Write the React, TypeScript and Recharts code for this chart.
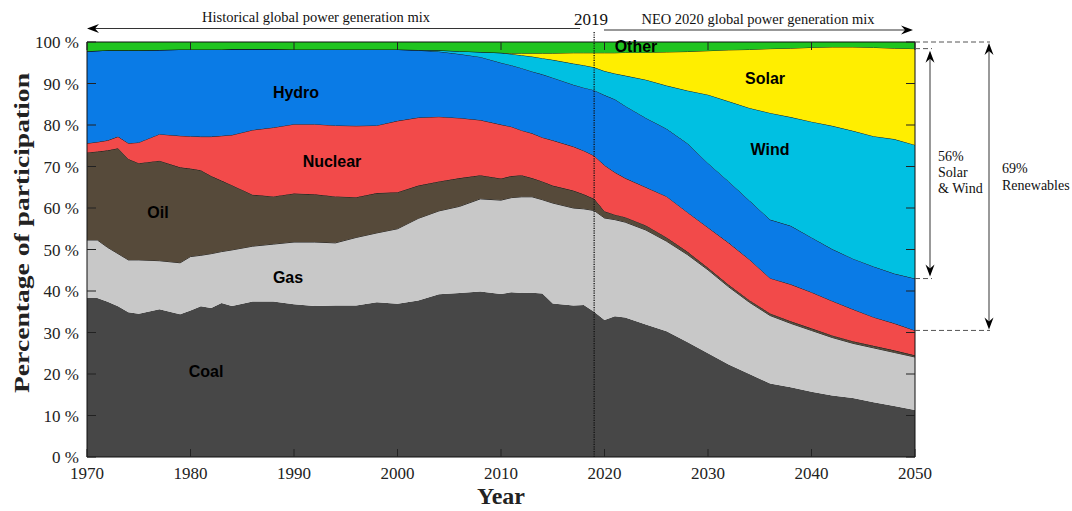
import React from "react";
import { AreaChart, Area, XAxis, YAxis, ReferenceLine } from "recharts";

// shares of global power generation (%)
const years = [1970, 1971, 1972, 1973, 1974, 1975, 1977, 1979, 1980, 1981, 1982, 1983, 1984, 1986, 1988, 1990, 1992, 1994, 1996, 1998, 2000, 2002, 2004, 2006, 2008, 2010, 2011, 2012, 2013, 2014, 2015, 2017, 2018, 2019, 2020, 2021, 2022, 2024, 2026, 2028, 2030, 2032, 2034, 2036, 2038, 2040, 2042, 2044, 2046, 2048, 2050];
const coal = [38.3, 38.3, 37.4, 36.3, 34.9, 34.5, 35.6, 34.4, 35.3, 36.3, 35.9, 37.1, 36.4, 37.5, 37.5, 36.8, 36.4, 36.5, 36.5, 37.3, 36.9, 37.7, 39.2, 39.5, 39.9, 39.3, 39.7, 39.5, 39.6, 39.4, 37.0, 36.5, 36.6, 35.0, 33.0, 33.9, 33.6, 31.9, 30.3, 27.7, 25.0, 22.3, 20.0, 17.7, 16.8, 15.7, 14.8, 14.2, 13.2, 12.3, 11.3];
const gas = [14.0, 14.0, 13.1, 12.7, 12.6, 13.0, 11.7, 12.4, 13.0, 12.3, 13.1, 12.4, 13.5, 13.3, 13.8, 15.0, 15.4, 15.1, 16.4, 16.7, 18.1, 19.8, 20.1, 20.9, 22.3, 22.6, 22.8, 23.2, 23.1, 22.6, 24.2, 23.5, 23.2, 24.4, 24.6, 23.3, 23.0, 22.8, 21.7, 21.1, 20.1, 18.7, 17.3, 16.4, 15.4, 14.8, 14.0, 13.2, 13.1, 12.9, 12.8];
const oil = [21.1, 21.3, 23.4, 25.4, 24.3, 23.3, 24.1, 23.0, 21.2, 20.5, 18.7, 17.1, 15.6, 12.4, 11.5, 11.7, 11.5, 11.2, 9.7, 9.6, 8.8, 7.9, 7.1, 6.8, 5.7, 5.2, 5.2, 5.2, 4.5, 4.4, 4.2, 4.2, 3.5, 2.8, 1.6, 1.2, 1.2, 1.1, 0.9, 0.7, 0.5, 0.5, 0.5, 0.5, 0.5, 0.5, 0.5, 0.5, 0.5, 0.5, 0.4];
const nuclear = [2.2, 2.3, 2.4, 2.8, 3.8, 5.0, 6.4, 7.6, 7.8, 8.1, 9.5, 10.8, 12.1, 15.6, 16.6, 16.7, 16.9, 17.1, 17.2, 16.3, 17.2, 16.4, 15.6, 14.5, 13.3, 13.0, 11.9, 10.8, 10.8, 10.6, 10.9, 10.6, 10.5, 10.4, 11.1, 10.2, 9.4, 9.2, 9.9, 9.5, 9.7, 10.1, 9.8, 8.5, 8.9, 8.7, 8.3, 7.7, 6.9, 6.5, 6.0];
const hydro = [22.2, 22.0, 21.7, 20.8, 22.4, 22.2, 20.3, 20.8, 20.9, 21.0, 21.0, 20.8, 20.7, 19.5, 18.9, 18.0, 18.0, 18.3, 18.4, 18.3, 17.2, 16.2, 15.7, 15.4, 15.2, 14.9, 14.8, 15.0, 14.9, 15.2, 15.1, 14.9, 15.2, 15.8, 16.9, 17.6, 17.4, 16.7, 16.3, 16.6, 15.5, 14.8, 14.2, 14.1, 14.1, 13.2, 12.5, 12.2, 12.2, 12.0, 12.5];
const wind = [0, 0, 0, 0, 0, 0, 0, 0, 0, 0, 0, 0, 0, 0, 0, 0, 0, 0, 0, 0, 0, 0.1, 0.3, 0.7, 1.2, 2.4, 2.7, 3.1, 3.6, 3.9, 4.3, 5.1, 5.4, 5.5, 5.8, 6.2, 7.3, 9.2, 10.4, 12.7, 16.5, 19.3, 22.3, 25.7, 26.2, 27.9, 29.7, 30.8, 31.4, 32.4, 32.2];
const solar = [0, 0, 0, 0, 0, 0, 0, 0, 0, 0, 0, 0, 0, 0, 0, 0, 0, 0, 0, 0, 0, 0, 0, 0, 0, 0, 0.2, 0.5, 0.8, 1.2, 1.6, 2.6, 3.0, 3.5, 4.4, 5.0, 5.6, 6.6, 8.1, 9.4, 10.6, 12.4, 14.1, 15.5, 16.6, 17.9, 19.0, 20.2, 21.4, 21.9, 23.2];
const other = [2.2, 2.1, 2.0, 2.0, 2.0, 2.0, 1.9, 1.8, 1.8, 1.8, 1.8, 1.8, 1.7, 1.7, 1.7, 1.8, 1.8, 1.8, 1.8, 1.8, 1.8, 1.9, 2.0, 2.2, 2.4, 2.6, 2.7, 2.7, 2.7, 2.7, 2.7, 2.6, 2.6, 2.6, 2.6, 2.6, 2.5, 2.5, 2.4, 2.3, 2.1, 1.9, 1.8, 1.6, 1.5, 1.3, 1.2, 1.2, 1.3, 1.5, 1.6];

const xTicks = [1970, 1980, 1990, 2000, 2010, 2020, 2030, 2040, 2050];
const yTicks = [0, 10, 20, 30, 40, 50, 60, 70, 80, 90, 100];

const series = [
  { key: "coal", label: "Coal", color: "#474747", line: false },
  { key: "gas", label: "Gas", color: "#c8c8c8", line: true },
  { key: "oil", label: "Oil", color: "#564a3a", line: true },
  { key: "nuclear", label: "Nuclear", color: "#f24a4a", line: true },
  { key: "hydro", label: "Hydro", color: "#0a7be6", line: true },
  { key: "wind", label: "Wind", color: "#00c0e2", line: true },
  { key: "solar", label: "Solar", color: "#ffee00", line: true },
  { key: "other", label: "Other", color: "#1fc41f", line: false },
];

const data = years.map((year, i) => ({
  year,
  coal: coal[i],
  gas: gas[i],
  oil: oil[i],
  nuclear: nuclear[i],
  hydro: hydro[i],
  wind: wind[i],
  solar: solar[i],
  other: other[i],
}));

const W = 1072;
const H = 511;
const PL = 87, PR = 915, PT = 42, PB = 457;
const xPx = (yr: number) => PL + ((yr - 1970) / 80) * (PR - PL);
const yPx = (v: number) => PB - (v / 100) * (PB - PT);

const serif = "'Liberation Serif', 'Times New Roman', serif";
const sans = "'Liberation Sans', Arial, sans-serif";

const BottomTick = ({ x, y, payload }: any) => (
  <g>
    <line x1={x} x2={x} y1={y - 8} y2={y} stroke="#222" />
    <text x={x} y={y + 22} textAnchor="middle" fontFamily={serif} fontSize={17} fill="#222">
      {payload.value}
    </text>
  </g>
);
const TopTick = ({ x, y }: any) => <line x1={x} x2={x} y1={y} y2={y + 8} stroke="#222" />;
const LeftTick = ({ x, y, payload }: any) => (
  <g>
    <line x1={x + 8} x2={x + 17} y1={y} y2={y} stroke="#222" />
    <text x={x} y={y + 6} textAnchor="end" fontFamily={serif} fontSize={17} fill="#222">
      {payload.value} %
    </text>
  </g>
);
const RightTick = ({ x, y }: any) => <line x1={x - 9} x2={x} y1={y} y2={y} stroke="#222" />;

function head(x: number, y: number, dir: "l" | "r" | "u" | "d") {
  const L = 12, w = 4.5, n = 4;
  let d = "";
  if (dir === "l") d = `M${x},${y} L${x + L},${y - w} L${x + L - n},${y} L${x + L},${y + w} Z`;
  if (dir === "r") d = `M${x},${y} L${x - L},${y - w} L${x - L + n},${y} L${x - L},${y + w} Z`;
  if (dir === "u") d = `M${x},${y} L${x - w},${y + L} L${x},${y + L - n} L${x + w},${y + L} Z`;
  if (dir === "d") d = `M${x},${y} L${x - w},${y - L} L${x},${y - L + n} L${x + w},${y - L} Z`;
  return <path d={d} fill="#000" />;
}

export default function App() {
  const last = years.length - 1;
  const swTop = 100 - other[last];
  const swBottom = coal[last] + gas[last] + oil[last] + nuclear[last] + hydro[last];
  const renBottom = coal[last] + gas[last] + oil[last] + nuclear[last];
  const x2019 = xPx(2019);

  const labels = [
    { t: "Hydro", x: 296, y: 98 },
    { t: "Nuclear", x: 332, y: 167 },
    { t: "Oil", x: 158, y: 218 },
    { t: "Gas", x: 288, y: 283 },
    { t: "Coal", x: 206, y: 377 },
    { t: "Solar", x: 765, y: 84 },
    { t: "Wind", x: 770, y: 155 },
    { t: "Other", x: 636, y: 52 },
  ];

  return (
    <div style={{ position: "absolute", left: 0, top: 0, width: W, height: H, background: "#fff" }}>
      <AreaChart width={W} height={H} data={data} margin={{ top: PT - 1, right: W - PR - 1, bottom: 24, left: 17 }}>
        <XAxis
          xAxisId="b"
          dataKey="year"
          type="number"
          domain={[1970, 2050]}
          ticks={xTicks}
          allowDataOverflow
          height={30}
          tickSize={0}
          tickMargin={0}
          tickLine={false}
          tick={<BottomTick />}
          axisLine={{ stroke: "#111" }}
          interval={0}
        />
        <XAxis
          xAxisId="t"
          orientation="top"
          dataKey="year"
          type="number"
          domain={[1970, 2050]}
          ticks={xTicks}
          allowDataOverflow
          height={1}
          tickSize={0}
          tickMargin={0}
          tickLine={false}
          tick={<TopTick />}
          axisLine={{ stroke: "#111" }}
          interval={0}
        />
        <YAxis
          yAxisId="l"
          type="number"
          domain={[0, 100]}
          ticks={yTicks}
          allowDataOverflow
          width={70}
          tickSize={0}
          tickMargin={8}
          tickLine={false}
          tick={<LeftTick />}
          axisLine={{ stroke: "#111" }}
          interval={0}
        />
        <YAxis
          yAxisId="r"
          orientation="right"
          type="number"
          domain={[0, 100]}
          ticks={yTicks}
          allowDataOverflow
          width={1}
          tickSize={0}
          tickMargin={0}
          tickLine={false}
          tick={<RightTick />}
          axisLine={{ stroke: "#111" }}
          interval={0}
        />
        {series.map((s) => (
          <Area
            key={s.key}
            xAxisId="b"
            yAxisId="l"
            type="linear"
            dataKey={s.key}
            stackId="mix"
            fill={s.color}
            fillOpacity={1}
            stroke={s.line ? "#111" : "none"}
            strokeWidth={0.9}
            isAnimationActive={false}
            dot={false}
            activeDot={false}
          />
        ))}
        <ReferenceLine xAxisId="b" yAxisId="l" x={2019} stroke="#111" strokeWidth={1.3} strokeDasharray="1.2 1.2" />
      </AreaChart>

      <svg width={W} height={H} style={{ position: "absolute", left: 0, top: 0, pointerEvents: "none" }}>
        {labels.map((l) => (
          <text key={l.t} x={l.x} y={l.y} textAnchor="middle" fontFamily={sans} fontWeight="bold" fontSize={16} fill="#000">
            {l.t}
          </text>
        ))}

        {/* 2019 divider above the plot */}
        <line x1={x2019} x2={x2019} y1={32} y2={PT} stroke="#111" strokeWidth={1.3} strokeDasharray="1.2 1.2" />

        {/* top annotations */}
        <line x1={PL + 4} x2={580} y1={28.5} y2={28.5} stroke="#333" strokeWidth={1.2} />
        {head(PL, 28.5, "l")}
        <text x={316} y={22} textAnchor="middle" fontFamily={serif} fontSize={14.5} fill="#111">
          Historical global power generation mix
        </text>
        <text x={591} y={25} textAnchor="middle" fontFamily={serif} fontSize={17} fill="#111">
          2019
        </text>
        <line x1={604} x2={PR - 6} y1={30} y2={30} stroke="#333" strokeWidth={1.2} />
        {head(PR - 2, 30, "r")}
        <text x={758} y={24} textAnchor="middle" fontFamily={serif} fontSize={14.5} fill="#111">
          NEO 2020 global power generation mix
        </text>

        {/* right annotations */}
        <line x1={PR} x2={990} y1={PT} y2={PT} stroke="#555" strokeDasharray="5 3" />
        <line x1={PR} x2={932} y1={yPx(swTop)} y2={yPx(swTop)} stroke="#555" strokeDasharray="5 3" />
        <line x1={PR} x2={932} y1={yPx(swBottom)} y2={yPx(swBottom)} stroke="#555" strokeDasharray="5 3" />
        <line x1={PR} x2={990} y1={yPx(renBottom)} y2={yPx(renBottom)} stroke="#555" strokeDasharray="5 3" />

        <line x1={930} x2={930} y1={yPx(swTop) + 4} y2={yPx(swBottom) - 4} stroke="#555" strokeWidth={1.2} />
        {head(930, yPx(swTop) + 2, "u")}
        {head(930, yPx(swBottom) - 2, "d")}
        <line x1={989} x2={989} y1={PT + 4} y2={yPx(renBottom) - 4} stroke="#555" strokeWidth={1.2} />
        {head(989, PT + 1, "u")}
        {head(989, yPx(renBottom) - 1, "d")}

        <text fontFamily={serif} fontSize={14} fill="#111">
          <tspan x={938} y={161}>56%</tspan>
          <tspan x={938} y={177}>Solar</tspan>
          <tspan x={938} y={193}>&amp; Wind</tspan>
        </text>
        <text fontFamily={serif} fontSize={14} fill="#111">
          <tspan x={1002} y={173}>69%</tspan>
          <tspan x={1002} y={190}>Renewables</tspan>
        </text>

        {/* axis titles */}
        <text
          transform={`translate(29, 233) rotate(-90)`}
          textAnchor="middle"
          fontFamily={serif}
          fontWeight="bold"
          fontSize={21}
          textLength={320}
          lengthAdjust="spacingAndGlyphs"
          fill="#222"
        >
          Percentage of participation
        </text>
        <text x={501} y={504} textAnchor="middle" fontFamily={serif} fontWeight="bold" fontSize={24} fill="#222">
          Year
        </text>
      </svg>
    </div>
  );
}
